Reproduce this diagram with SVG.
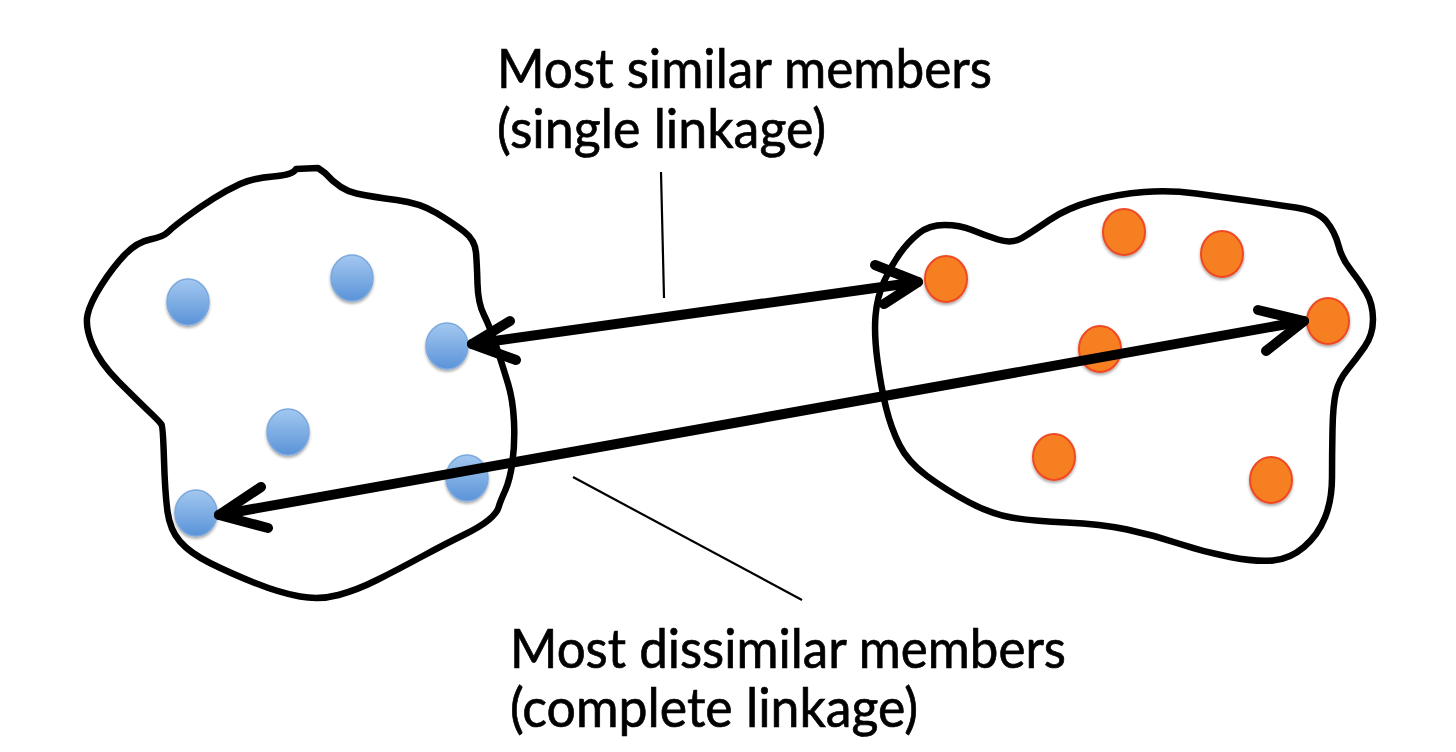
<svg xmlns="http://www.w3.org/2000/svg" width="1456" height="752" viewBox="0 0 1456 752">
<defs>
<linearGradient id="blueGrad" x1="0" y1="0" x2="0" y2="1">
<stop offset="0" stop-color="#A3C8F0"/>
<stop offset="1" stop-color="#5A93D8"/>
</linearGradient>
<filter id="shadow" x="-30%" y="-30%" width="160%" height="160%">
<feGaussianBlur in="SourceAlpha" stdDeviation="1.5"/>
<feOffset dx="0" dy="2" result="b"/>
<feComponentTransfer><feFuncA type="linear" slope="0.35"/></feComponentTransfer>
<feMerge><feMergeNode/><feMergeNode in="SourceGraphic"/></feMerge>
</filter>
</defs>
<style>
.blob{fill:none;stroke:#000;stroke-width:6.5;stroke-linejoin:round;stroke-linecap:round}
.blue{fill:url(#blueGrad);stroke:#7BA8DE;stroke-width:1.5}
.orange{fill:#F67F22;stroke:#EE4A24;stroke-width:2}
.arrow{fill:none;stroke:#000;stroke-width:10;stroke-linecap:round;stroke-linejoin:round}
.leader{fill:none;stroke:#000;stroke-width:2.2}
.label{font-family:Lato,"Open Sans","Liberation Sans",sans-serif;font-size:54px;fill:#000;stroke:#000;stroke-width:0.7}
</style>
<rect width="1456" height="752" fill="#fff"/>
<g id="cluster-left">
<path class="blob" d="M 296 169 L 318 168 L 325 173 Q 340 190 356.5 193.5 Q 373 197 396.5 200 Q 420 203 436.5 213 Q 453 223 464 231.5 Q 475 240 476 252.5 Q 477 265 477.5 284 Q 478 303 484 315 Q 490 327 496.5 347 Q 503 367 508 383.5 Q 513 400 514 421.5 Q 515 443 512.5 461.5 Q 510 480 505 491 Q 500 502 498.5 507.5 Q 497 513 488.5 520 Q 480 527 463.5 535 Q 447 543 422 556.5 Q 397 570 377 580 Q 357 590 338.5 595 Q 320 600 300 596.5 Q 280 593 255 583 Q 230 573 210 563 Q 190 553 180 541.5 Q 170 530 167.5 511.5 Q 165 493 164 460 Q 163 427 161.5 424.5 Q 160 422 148.5 411 Q 137 400 118.5 381.5 Q 100 363 92.5 345 Q 85 327 87.5 315 Q 90 303 101.5 285 Q 113 267 125 254.5 Q 137 242 150 239.5 Q 163 237 168 232 Q 173 227 186.5 217 Q 200 207 213.5 198.5 Q 227 190 240 184 Q 253 178 273 176.5 Q 293 175 296 169 Z"/>
<g filter="url(#shadow)">
<ellipse class="blue" cx="188" cy="302" rx="21" ry="23"/>
<ellipse class="blue" cx="352" cy="278" rx="21" ry="23"/>
<ellipse class="blue" cx="447" cy="346" rx="21" ry="23"/>
<ellipse class="blue" cx="288" cy="432" rx="21" ry="23"/>
<ellipse class="blue" cx="467" cy="478" rx="21" ry="23"/>
<ellipse class="blue" cx="196" cy="513" rx="21" ry="23"/>
</g>
</g>
<g id="cluster-right">
<path class="blob" d="M 899.5 254 Q 908 242 918.5 233.5 Q 929 225 944.5 225 Q 960 225 972 230 Q 984 235 998 239.5 Q 1012 244 1022 238 Q 1032 232 1049.5 220 Q 1067 208 1092.5 201 Q 1118 194 1144 192 Q 1170 190 1196 193.5 Q 1222 197 1247.5 200.5 Q 1273 204 1295.5 207.5 Q 1318 211 1326.5 221.5 Q 1335 232 1338.5 245.5 Q 1342 259 1350.5 269.5 Q 1359 280 1366 292 Q 1373 304 1373 319.5 Q 1373 335 1364.5 347 Q 1356 359 1347.5 369.5 Q 1339 380 1336 392 Q 1333 404 1332.5 429.5 Q 1332 455 1332 477.5 Q 1332 500 1325 517.5 Q 1318 535 1304 547 Q 1290 559 1273 560.5 Q 1256 562 1230 557 Q 1204 552 1178.5 543.5 Q 1153 535 1127 529.5 Q 1101 524 1066.5 522.5 Q 1032 521 1011.5 517.5 Q 991 514 968.5 502 Q 946 490 927 476 Q 908 462 899.5 445 Q 891 428 886 407.5 Q 881 387 877.5 361 Q 874 335 875.5 316 Q 877 297 884 281.5 Q 891 266 899.5 254 Z"/>
<g filter="url(#shadow)">
<ellipse class="orange" cx="946" cy="279" rx="21" ry="23"/>
<ellipse class="orange" cx="1124" cy="232" rx="21" ry="23"/>
<ellipse class="orange" cx="1222" cy="254" rx="21" ry="23"/>
<ellipse class="orange" cx="1328" cy="321" rx="21" ry="23"/>
<ellipse class="orange" cx="1100" cy="349" rx="21" ry="23"/>
<ellipse class="orange" cx="1054" cy="457" rx="21" ry="23"/>
<ellipse class="orange" cx="1271" cy="480" rx="21" ry="23"/>
</g>
</g>
<g id="connectors">
<path class="arrow" d="M 472 344 L 918 282"/>
<path class="arrow" d="M 510 321 L 472 344 L 516 360"/>
<path class="arrow" d="M 875 265 L 918 282 L 884 304"/>
<path class="arrow" d="M 219 515 L 1304 321"/>
<path class="arrow" d="M 261 487 L 219 515 L 268 528"/>
<path class="arrow" d="M 1258 310 L 1304 321 L 1266 351"/>
<path class="leader" d="M 661 172 L 664 298"/>
<path class="leader" d="M 573 477 L 802 600"/>
</g>
<g id="label-single">
<text class="label" x="497" y="88" textLength="495" lengthAdjust="spacingAndGlyphs">Most similar members</text>
<text class="label" x="497" y="148" textLength="329" lengthAdjust="spacingAndGlyphs">(single linkage)</text>
</g>
<g id="label-complete">
<text class="label" x="510" y="668" textLength="556" lengthAdjust="spacingAndGlyphs">Most dissimilar members</text>
<text class="label" x="510" y="727" textLength="408" lengthAdjust="spacingAndGlyphs">(complete linkage)</text>
</g>
</svg>
